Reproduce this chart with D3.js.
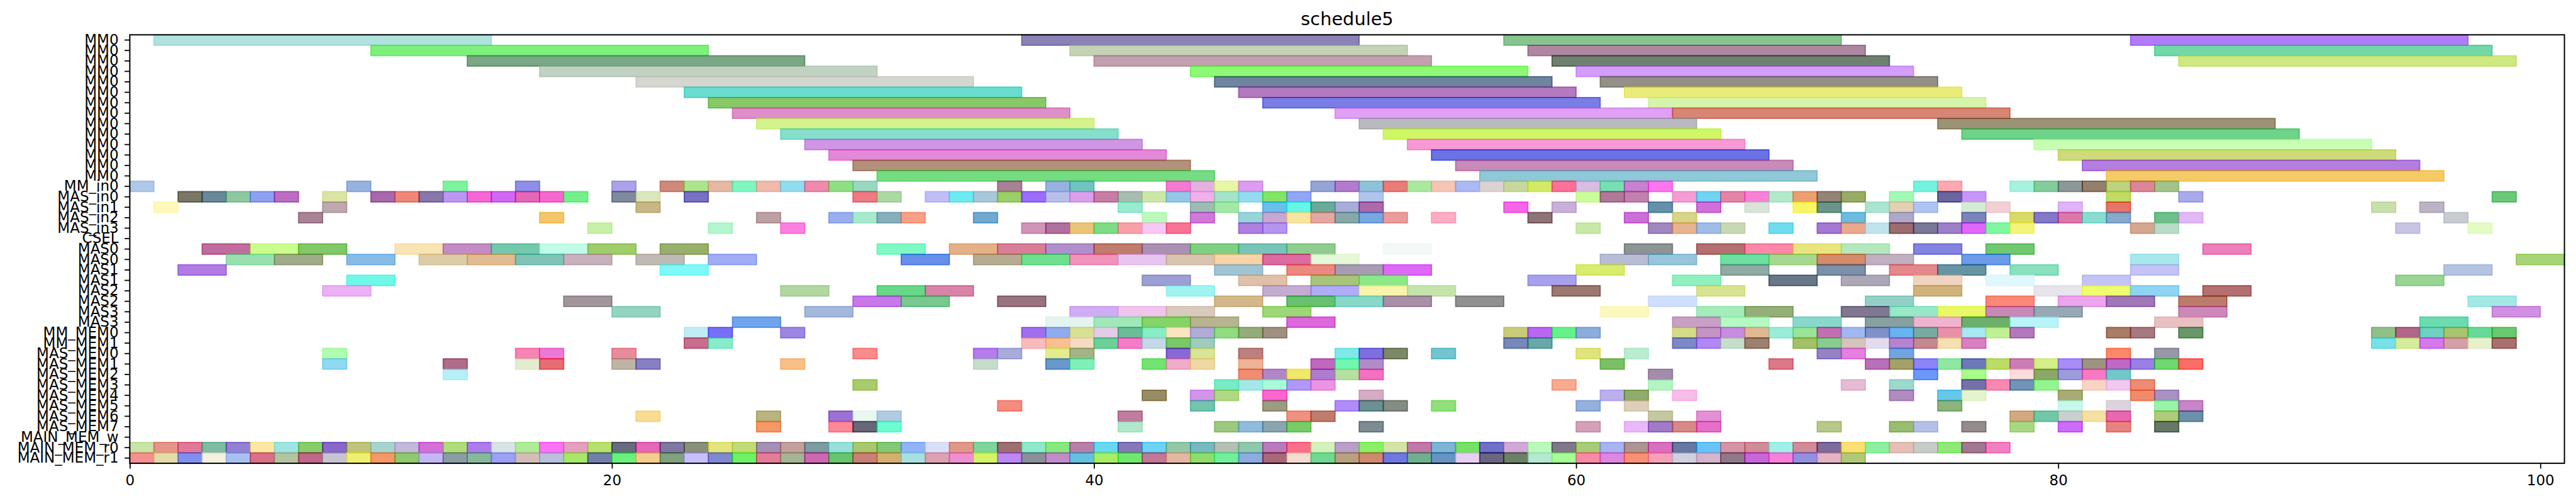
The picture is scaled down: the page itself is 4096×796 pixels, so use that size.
<!DOCTYPE html>
<html><head><meta charset="utf-8">
<script src="https://cdn.jsdelivr.net/npm/d3@7"></script>
<style>html,body{margin:0;padding:0;background:#fff;}svg{display:block;}</style>
</head><body>
<script>
const title = "schedule5";
const rowLabels = ["MM0","MM0","MM0","MM0","MM0","MM0","MM0","MM0","MM0","MM0","MM0","MM0","MM0","MM0",
  "MM_in0","MAS_in0","MAS_in1","MAS_in2","MAS_in3","CSEL",
  "MAS0","MAS0","MAS1","MAS1","MAS2","MAS2","MAS3","MAS3",
  "MM_MEM0","MM_MEM1","MAS_MEM0","MAS_MEM1","MAS_MEM2","MAS_MEM3","MAS_MEM4","MAS_MEM5","MAS_MEM6","MAS_MEM7",
  "MAIN_MEM_w","MAIN_MEM_r0","MAIN_MEM_r1"];
const rowDurations = [14,14,14,14,14,14,14,14,14,14,14,14,14,14, 1,1,1,1,1,1, 2,2,2,2,2,2,2,2, 1,1,1,1,1,1,1,1,1,1,1,1,1];
const xTicks = [0,20,40,60,80,100];
const xMax = 101;

const rowStarts = [
 [1,37,57,83],
 [10,39,58,84],
 [14,40,59,85],
 [17,44,60],
 [21,45,61],
 [23,46,62],
 [24,47,63],
 [25,50,64],
 [26,51,75],
 [27,52,76],
 [28,53,79],
 [29,54,80],
 [30,55,81],
 [31,56,82],
 [0,9,13,16,20,22,23,24,25,26,27,28,29,30,36,38,39,43,44,45,46,49,50,51,52,53,54,55,56,57,58,59,60,61,62,63,74,75,78,79,80,81,82,83,84],
 [2,3,4,5,6,8,10,11,12,13,14,15,16,17,18,20,21,23,30,31,33,34,35,36,37,38,39,40,41,42,43,44,45,46,47,48,51,60,61,62,64,65,66,67,68,69,70,71,73,75,76,82,85,98],
 [1,8,21,41,44,45,47,48,49,50,51,57,59,63,65,67,69,70,72,73,74,76,77,80,82,93,95],
 [7,17,26,29,30,31,32,35,42,44,46,47,48,49,50,51,52,54,58,62,64,71,73,76,78,79,80,81,82,84,85,96],
 [19,24,27,37,38,39,40,41,42,43,46,47,60,63,64,65,66,68,70,71,72,73,74,75,76,77,78,83,84,94,97],
 [],
 [3,5,7,11,13,15,17,19,22,31,34,36,38,40,42,44,46,48,52,62,65,67,69,71,74,77,86],
 [4,6,9,12,14,16,18,21,24,32,35,37,39,41,43,45,47,49,61,63,66,68,70,72,76,83,99],
 [2,22,45,48,50,52,60,66,70,73,75,78,83,96],
 [9,42,46,49,51,58,64,68,71,74,77,81,94],
 [8,27,31,33,43,47,49,51,53,59,65,74,79,81,83,86],
 [18,30,32,36,45,48,50,52,55,63,72,77,80,82,85,97],
 [20,28,39,41,43,47,61,65,67,71,73,75,77,79,85,98],
 [25,38,40,42,44,48,64,66,69,72,74,76,78,84,95],
 [23,24,27,37,38,39,40,41,42,43,44,45,46,47,57,58,59,60,64,65,66,67,68,69,70,71,72,73,74,75,76,77,78,82,83,85,93,94,95,96,97,98],
 [23,24,37,38,39,40,41,42,43,44,57,58,64,65,66,67,69,70,71,72,73,74,75,76,93,94,95,96,97,98],
 [8,16,17,20,30,35,36,38,39,43,44,46,50,51,52,54,60,62,70,71,73,82,84],
 [8,13,16,17,20,21,27,35,38,39,42,43,44,46,49,50,51,61,68,72,73,74,75,76,77,78,79,80,81,82,83,84,85],
 [13,46,47,48,49,50,51,63,74,76,78,79,80,81,82],
 [30,45,46,47,48,49,59,63,71,73,76,77,78,79,81,82,83],
 [42,44,45,47,51,61,62,64,73,75,76,80,83,84],
 [36,44,47,50,51,52,54,60,62,75,80,82,84,85],
 [21,26,29,30,31,41,48,49,63,65,78,79,80,81,82,84,85],
 [26,29,30,31,41,45,46,47,48,51,60,62,63,64,65,70,73,74,76,78,80,82,84],
 [],
 [0,1,2,3,4,5,6,7,8,9,10,11,12,13,14,15,16,17,18,19,20,21,22,23,24,25,26,27,28,29,30,31,32,33,34,35,36,37,38,39,40,41,42,43,44,45,46,47,48,49,50,51,52,53,54,55,56,57,58,59,60,61,62,63,64,65,66,67,68,69,70,71,72,73,74,75,76,77],
 [0,1,2,3,4,5,6,7,8,9,10,11,12,13,14,15,16,17,18,19,20,21,22,23,24,25,26,27,28,29,30,31,32,33,34,35,36,37,38,39,40,41,42,43,44,45,46,47,48,49,50,51,52,53,54,55,56,57,58,59,60,61,62,63,64,65,66,67,68,69,70,71]
];

const rowColors = [
 ["b0e2de","8b83b8","88c48f","b27cf9"],
 ["7ef07c","c4d3b5","ae86a2","72d8a8"],
 ["7aa784","c3a0b0","6f8070","cfe882"],
 ["c1d2c3","8ef877","d39ef9"],
 ["d6d6d0","6f849e","939087"],
 ["6adcd0","b37abd","eaec7a"],
 ["88c868","7a7de4","d6f4aa"],
 ["de8fca","dfa0f6","d78575"],
 ["d4f28e","b8babf","9c9276"],
 ["86dfcb","cff761","6fd28a"],
 ["d095e4","f799d4","c8feb4"],
 ["e488d8","6b73e4","cedb7a"],
 ["b3917b","c98bb8","b37ee0"],
 ["76dc82","8fc8d6","f5cb64"],
 ["b0c8e8","98b2e0","7ef39f","8f8fe8","aba2ea","cd8a7a","ace58c","e4b8a4","80f5c0","efb9ab","93dcef","ee8aac","90df84","98d8c0","aa8094","98b2e0","70c4c0","f578d2","e4b0e0","e7f5a5","dc9cef","94a4d4","b27ccc","8dc2d8","e97c7a","aae8a0","f5c5b5","acbaf2","dcd2d2","c8d89c","d4ea64","fe7298","d8bce2","78dfb4","c882d0","fa78ec","74f2de","fea8b0","a6f2de","84cc9c","8c9898","947e6c","bcd480","da8698","a2c48a"],
 ["7b7764","6a8898","8ec8a0","8ea0f0","bb6ec0","dce4a4","a66aac","ee8778","8878aa","bb97f2","f468d4","d068f4","e468b8","f468d0","74f08a","7f8a9e","dbe6bc","7870c0","ee7a84","acd8a4","c0bef6","6eeaf0","a8c8d8","9ccf6a","9a6ef8","b8c0e8","dba0ec","c87ea4","a8bcb0","cce6a8","94c8e8","f0b0e8","a4e4c8","96dcf0","84e460","90a6f8","b0c4ee","cafd9a","ae7a98","c282b0","f49cd4","70d4f2","e484a8","f882d8","b2e8cc","eaa070","948478","98ac64","a4f8b8","6a64a0","c896f8","c0dc64","a8aaea","6cc878"],
 ["fff8bc","bcaaae","c8b888","98ead0","9cbcb4","a4e8a8","68c0ec","66f6e6","6aaa98","a8acd8","ac6aa8","f468e8","c8b0d8","6490ac","d070d8","d8e4d8","f8f660","6c9488","ace4d0","e4d0b4","b0c4f0","d4ecd4","f0d0d4","e0b4f8","e67468","c8e0ac","bcb4c4"],
 ["a88494","f4c66c","bca0a4","9aaef0","a8ead0","88aebc","f8a088","70aad0","bcfabc","d07ad8","98d4d8","c8a8d0","f8e4a0","e4a8a4","88a8a8","78a8e0","eb9c9c","fcacc4","8c7478","cc70d8","d8d488","6cbce0","acaac8","7c84bc","dada68","8478c8","dc78a8","88dcd0","88a8cc","6cc088","e0b8f4","c8ccd0"],
 ["c8f0a8","b4f6d0","fc80e0","d094b8","b070a0","ecc478","7edc84","f8a0a8","f8c8f4","f87494","b080e0","b494f0","c8e8a8","a088c0","e8b490","a0bce8","c8d8b4","70dcf0","a478d4","eca88c","c0e4ec","9c6c70","7a7898","9c80c8","e068f8","80f8a0","f4f47c","d4a890","b8dcc8","c8c4e4","e4fcc4"],
 [],
 ["c06c9c","cafc8e","80c868","f8e4b4","c48cc4","74c8ac","c0fce8","a0cc6c","98b06c","80f8c4","e4b088","d87e98","b090cc","c07c6c","ac90b4","80d084","78c4b8","90cc90","f4f8f6","8c9494","b47070","fc88a8","e8e480","b4e8bc","8484e0","70c870","ec80b8"],
 ["98e0b0","a0ac88","88bce8","dccca8","e0bc90","80c4b8","c8b0bc","c0bab4","a0acf4","6890e8","b8ac90","70e090","f094bc","e8c4f0","d8c4b0","f8d4a8","dc6ca0","e4f8d8","b8bcd4","98c4dc","6ce0a0","a8d890","d48c6c","c0b0c0","6c9ce8","a8e8ec","a8d478"],
 ["b07ce4","80f8f8","a0c4d4","ec8880","a89cb4","e068f8","d8ec70","90aaa4","7c90a8","e4888c","6894a4","88e0bc","c4c4f4","b4c4e0"],
 ["70f8e8","9ca0d4","e0c0a8","a8c478","8ce888","a8a0ec","90f0c0","687888","aca8b8","f0d4c0","e0f8fc","c4c4f4","98d494"],
 ["ecb0f4","b0d8a0","68d888","d884a8","a0f4f0","c4acd0","b0acf8","f8f4ac","c4e4ac","9c7870","d8e490","d0b47c","e8e4ec","f0fc70","90d4f4","b47070"],
 ["a0969c","c878e8","78c890","987480","d4b88c","68c070","88d8c8","a890a8","909090","d0e0fc","94d0c8","fc8878","eca4ec","a078b8","bc7c6c","a4e8e4"],
 ["94d4c0","a4b8dc","d0acf4","f0c4ec","d8cabc","9cd878","fcf8c0","a4ecbc","94b078","807890","98e8c8","e8f860","c888b8","98a8b4","cc88b8","d090e4"],
 ["70a4ec","e4f4f0","a0e8b8","84d468","b8b490","dc68dc","c8a0c4","b4f8c4","88d8cc","88a0a0","f0b4d0","6cb06c","b8f4f8","e8c0c4","6cdcb0"],
 ["c0ecf4","7670f8","9c88e4","a070ec","90acec","d8e094","e4cce8","6cbc98","88ecc4","fce4c0","b0acd8","90dc80","94ac7c","a09080","c8cc78","b868f0","60f088","8cacdc","d4dc88","c494c4","c88ce0","e0b894","98ecd8","98e498","c070b0","a0b8f0","8090c8","68b4f0","78aca0","e890a8","a8e8f0","c0f094","b478bc","a87c64","a87880","689868","90c088","b06888","70d0c0","a8c470","68d898","6cc870"],
 ["c86e8c","88ecc8","f8bcbc","f8c090","f4dcc4","6cd098","f47cc8","c4d8e8","7cc868","a0ccc0","7888b8","68a8a8","7c88c8","b088f4","c8dccc","9c8070","a4c068","88cc90","d4c4bc","e4dcec","b484d0","c48890","f4e0b0","d880c0","78e0e8","d4ec9c","d478ec","d4a0a8","e8f0cc","a87070"],
 ["b0fcb0","f684b4","ec7ad4","e88c9c","f88c8c","b47cec","a8acdc","e4ec90","a4b488","8868d4","d8e498","bc8080","80e8e8","7c70e0","7c8868","74c4d0","e0e47c","bcecd0","9484c4","e480e0","74a4e0","fc8868","9898a8"],
 ["90d8f4","b06c88","e4ecd0","e86c74","beb4a4","8880c4","f8c088","c8dccc","6898cc","80f0b8","74e470","f0acc8","f0d8a4","ecb498","c068bc","70f8b0","b08cc8","7cc064","dc7888","b870b8","a4a068","8c84f8","90e8a0","6c78b8","bcdc68","cc7cb4","d4f088","a88cf8","9c9480","c068c8","9880e4","70d870","fc6c68"],
 ["b8f0f8","f08c70","b088c8","f0e868","b07cd0","b4e0a0","f470c0","a48cac","6c98f8","a8fc88","fcdcdc","8ca868","9c9cdc","f878c4","70c8c8"],
 ["a8cc6c","78ecc4","a4e8e8","a8fcd8","b098f8","ec94e4","f8aa90","b4f4c4","e4bcd4","9cd8cc","7470a8","f888b0","7094b8","94f490","f8d4c4","f0c8f0","ec8c74"],
 ["988c64","d494ec","b0d884","fc64d0","d4acc4","bcb0ec","90ac6c","f8bce8","b08cc0","68c8ec","e4f4cc","a8ac74","f08c6c","a890c4"],
 ["f48c80","74c4b0","9c9c80","b08cf8","6c9090","848c84","90e07c","94b0dc","dcd0bc","8cb47c","c8f8ec","dcd4dc","98f4a8","c884c4"],
 ["f8dc90","b8b480","9c70d4","e8f8f0","b0cce0","c07c9c","f09080","c07c6c","c4c8a0","e490d4","d4a880","70c8a8","c8d0d0","f4e0a0","e868b0","b0cc78","6c90a8"],
 ["f49868","fe8898","646878","6cfcd0","b0e8cc","9cc880","90bcdc","8ca4b0","78cc68","7c8c90","d4a0b8","e8b8f8","a07cc8","d88888","e470c8","b8c888","98bc70","b4c0e8","948c8c","a8d884","cc6cf8","e88480","687868"],
 [],
 ["c8e4a8","e4958a","e07898","80bca4","9480d0","fce8a4","a0e4e4","88cc6c","8868c8","c0c47c","a8d4d0","c4b8dc","d470d8","b0dc7c","ac7cec","d8e4e4","b0ec98","fc74f4","e4a0c0","b8e070","686c80","e468b8","8078a0","889078","e4e47c","c0dc78","a490b4","c4a09c","7c9ca0","98e0dc","a8c870","84c878","90b4f8","d8e0f8","e09888","80d4a0","9c7070","90e8cc","88e880","b880a8","68d8f0","8878b8","6cd4f4","94c8a8","78b8c0","b4c0b4","90c8ac","b87cbc","f8708c","d4f0bc","b8a0c8","88f068","d4e4a8","c078a8","80b4d4","78e060","7070c8","d0a8d4","bcf8bc","807888","a8cc78","a8b4f0","ac9494","d870c0","6878a0","68c4f8","d494a4","d08c98","a0f0e8","d08c98","7c6c9c","fce074","8cf0a0","e4c0b8","c8ccc8","90e878","a07890","f080c0"],
 ["f49090","e4dca8","8090ec","f4f0e0","a8c0f0","d87088","b4c4a0","c06888","c8c4d4","f0f070","f49868","90c870","c4b8f4","8c9ca4","88b89c","9ca0f4","d4bcb8","b8c0dc","a8e868","7080a8","6cf07c","f4cc90","80a080","c8c0fc","8088d0","70f060","e47c98","a4b494","cc68b0","68c470","c88078","d4b070","a8e0e0","dca0b0","ec90d0","d4f468","bc88f4","8c9098","c08cc8","68c0e0","a8ec68","70e870","c07898","e4b8a0","90dc70","70f09c","8cace0","a86878","f4dcd0","70d890","b8a080","d08870","7078e0","70b090","6894c4","e8d0f4","6c6480","6c8068","b4e8d0","a8fc98","f888a8","dc88e0","f89078","f4a0b8","d0d0e0","d4b4cc","907888","c868d8","f880d8","9490e0","e4b4c4","b0c878"]
];

const W = 4096, H = 796;
const margin = {left: 206.4, right: W - 4077.6, top: 55.3, bottom: H - 736.1};
const ALPHA = 0.6;

const svg = d3.select("body").append("svg").attr("width", W).attr("height", H)
  .style("font-family", "'DejaVu Sans', sans-serif");

const x = d3.scaleLinear().domain([0, xMax]).range([margin.left, W - margin.right]);
const y = d3.scaleBand().domain(d3.range(rowLabels.length)).range([margin.top, H - margin.bottom]).padding(0);

function baseColor(hex) {
  const c = d3.rgb("#" + hex);
  const f = v => Math.max(0, Math.min(255, (v - (1 - ALPHA) * 255) / ALPHA));
  return d3.rgb(f(c.r), f(c.g), f(c.b)).formatHex();
}

const bars = [];
rowStarts.forEach((starts, r) => {
  starts.forEach((s, i) => bars.push({row: r, start: s, dur: rowDurations[r], color: rowColors[r][i]}));
});

svg.append("g").selectAll("rect").data(bars).join("rect")
  .attr("x", d => x(d.start))
  .attr("y", d => y(d.row))
  .attr("width", d => x(d.start + d.dur) - x(d.start))
  .attr("height", y.bandwidth())
  .attr("fill", d => baseColor(d.color))
  .attr("fill-opacity", ALPHA)
  .attr("stroke", d => baseColor(d.color))
  .attr("stroke-opacity", ALPHA)
  .attr("stroke-width", 1.8);

const yAxis = d3.axisLeft(y).tickFormat(i => rowLabels[i]).tickSize(8.3).tickPadding(9.5);
const gy = svg.append("g").attr("transform", `translate(${margin.left},0)`).call(yAxis);
gy.select(".domain").remove();
gy.selectAll(".tick line").attr("stroke", "#000").attr("stroke-width", 1.8);
gy.selectAll(".tick text").attr("font-size", 23).attr("fill", "#000").attr("font-family", "'DejaVu Sans', sans-serif");

const xAxis = d3.axisBottom(x).tickValues(xTicks).tickFormat(d3.format("d")).tickSize(8.3).tickPadding(10.5);
const gx = svg.append("g").attr("transform", `translate(0,${H - margin.bottom})`).call(xAxis);
gx.select(".domain").remove();
gx.selectAll(".tick line").attr("stroke", "#000").attr("stroke-width", 1.8);
gx.selectAll(".tick text").attr("font-size", 23).attr("fill", "#000").attr("font-family", "'DejaVu Sans', sans-serif");

svg.append("rect")
  .attr("x", margin.left).attr("y", margin.top)
  .attr("width", W - margin.right - margin.left)
  .attr("height", H - margin.bottom - margin.top)
  .attr("fill", "none").attr("stroke", "#000").attr("stroke-width", 2);

svg.append("text")
  .attr("x", (margin.left + W - margin.right) / 2)
  .attr("y", 40.4)
  .attr("text-anchor", "middle")
  .attr("font-size", 28.8)
  .attr("fill", "#000")
  .text(title);
</script>
</body></html>
